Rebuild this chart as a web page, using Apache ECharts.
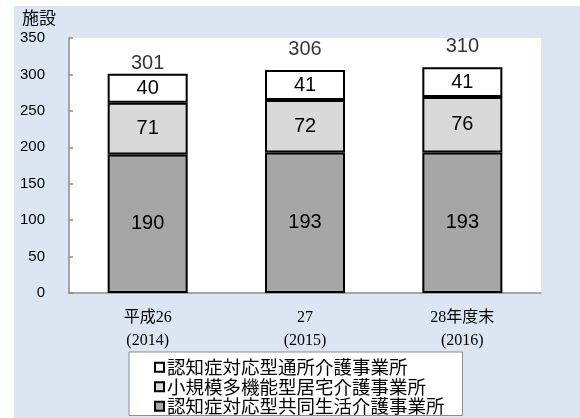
<!DOCTYPE html>
<html>
<head>
<meta charset="utf-8">
<script src="https://cdn.jsdelivr.net/npm/echarts@6/dist/echarts.min.js"></script>
<style>
  html, body { margin: 0; padding: 0; background: #ffffff; }
  #chart { width: 580px; height: 418px; }
</style>
</head>
<body>
<div id="chart"></div>
<script>
// Fiscal years (two-line category labels)
const categories = ['平成26\n(2014)', '27\n(2015)', '28年度末\n(2016)'];

// Facility counts per service type
const groupHome = [190, 193, 193];      // 認知症対応型共同生活介護事業所
const smallMulti = [71, 72, 76];        // 小規模多機能型居宅介護事業所
const dayService = [40, 41, 41];        // 認知症対応型通所介護事業所

const seriesNames = [
  '認知症対応型共同生活介護事業所',
  '小規模多機能型居宅介護事業所',
  '認知症対応型通所介護事業所'
];

const yTicks = { min: 0, max: 350, interval: 50 };

const totals = categories.map((_, i) => groupHome[i] + smallMulti[i] + dayService[i]);

const numFont = "'Liberation Sans', Arial, sans-serif";
const cjkFont = "'Noto Sans CJK JP', sans-serif";
const serifFont = "'Liberation Serif', 'DejaVu Serif', 'Noto Sans CJK JP', serif";

const barStyle = (color) => ({
  color: color,
  borderColor: '#000000',
  borderWidth: 2
});

const insideLabel = {
  show: true,
  position: 'inside',
  fontFamily: numFont,
  fontSize: 20,
  color: '#000000'
};

const chart = echarts.init(document.getElementById('chart'), null, { renderer: 'canvas' });

chart.setOption({
  backgroundColor: '#ffffff',
  animation: false,
  graphic: [{
    type: 'rect',
    z: -10,
    shape: { x: 14, y: 6, width: 566, height: 412 },
    style: { fill: '#dce6f2' },
    silent: true
  }],
  title: {
    text: '施設',
    left: 22,
    top: 9,
    padding: 0,
    textStyle: { fontFamily: cjkFont, fontSize: 17, fontWeight: 'normal', color: '#000000' }
  },
  grid: {
    left: 69,
    right: 39,
    top: 38,
    bottom: 125,
    show: true,
    backgroundColor: '#ffffff',
    borderWidth: 0
  },
  legend: {
    data: [seriesNames[2], seriesNames[1], seriesNames[0]],
    orient: 'vertical',
    left: 129,
    top: 352,
    selectedMode: false,
    backgroundColor: '#ffffff',
    borderColor: '#8c8c8c',
    borderWidth: 1,
    padding: [6, 18, 0, 25],
    itemGap: 1,
    itemWidth: 9,
    itemHeight: 9,
    icon: 'rect',
    itemStyle: { borderColor: '#000000', borderWidth: 2 },
    textStyle: { fontFamily: cjkFont, fontSize: 18.5, lineHeight: 18, color: '#000000', padding: [0, 0, 0, -2] }
  },
  xAxis: {
    type: 'category',
    data: categories,
    axisLine: { show: true, lineStyle: { color: '#8c8c8c', width: 1.5 } },
    axisTick: { show: false },
    axisLabel: {
      fontFamily: serifFont,
      fontSize: 16,
      lineHeight: 23,
      color: '#000000',
      margin: 13
    }
  },
  yAxis: {
    type: 'value',
    min: yTicks.min,
    max: yTicks.max,
    interval: yTicks.interval,
    axisLine: { show: true, lineStyle: { color: '#8c8c8c', width: 1.5 } },
    axisTick: { show: true, inside: true, length: 4, lineStyle: { color: '#8c8c8c', width: 1.5 } },
    splitLine: { show: false },
    axisLabel: { fontFamily: numFont, fontSize: 15, color: '#000000', margin: 24 }
  },
  series: [
    {
      name: seriesNames[0],
      type: 'bar',
      stack: 'total',
      barWidth: 80,
      data: groupHome,
      itemStyle: barStyle('#a6a6a6'),
      label: insideLabel
    },
    {
      name: seriesNames[1],
      type: 'bar',
      stack: 'total',
      barWidth: 80,
      data: smallMulti,
      itemStyle: barStyle('#d9d9d9'),
      label: insideLabel
    },
    {
      name: seriesNames[2],
      type: 'bar',
      stack: 'total',
      barWidth: 80,
      data: dayService,
      itemStyle: barStyle('#ffffff'),
      label: insideLabel
    },
    {
      name: '合計',
      type: 'scatter',
      symbolSize: 0,
      silent: true,
      data: totals.map((v, i) => ({
        value: v,
        label: { distance: i === 0 ? 0 : 11 }
      })),
      label: {
        show: true,
        position: 'top',
        fontFamily: numFont,
        fontSize: 20,
        color: '#000000'
      }
    }
  ]
});
</script>
</body>
</html>
